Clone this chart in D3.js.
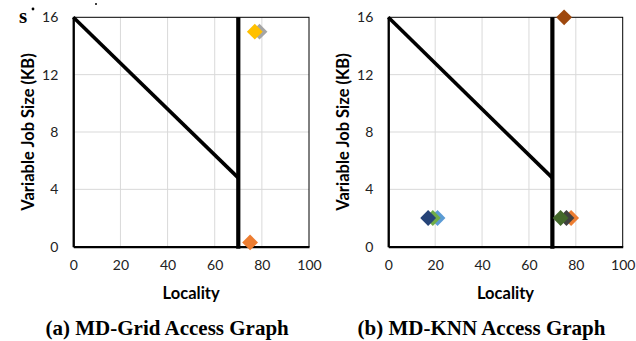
<!DOCTYPE html>
<html>
<head>
<meta charset="utf-8">
<title>Access Graphs</title>
<style>
  body { margin: 0; background: #fff; }
  svg text { font-family: Lato, "Open Sans", sans-serif; }
</style>
</head>
<body>
<script src="https://d3js.org/d3.v7.min.js"></script>
<script>
// axis ticks
var xTicks = [0, 20, 40, 60, 80, 100];
var yTicks = [0, 4, 8, 12, 16];

// boundary line: diagonal then vertical cut at locality 70
var boundaryDiag = [[0, 16], [70, 4.8]];
var boundaryVert = [[70, 16], [70, -0.15]];

// (a) MD-Grid, drawn back to front
var gridLocality = [79, 77, 75];
var gridSize = [15, 15, 0.3];
var gridColors = ["#a5a5a5", "#ffc000", "#ed7d31"];

// (b) MD-KNN, drawn back to front
var knnLocality = [75, 21, 19, 17, 78, 76, 73.5];
var knnSize = [16, 2, 2, 2, 2, 2, 2];
var knnColors = ["#9e480e", "#5b9bd5", "#70ad47", "#264478", "#ed7d31", "#404040", "#43682b"];

var captions = ["(a) MD-Grid Access Graph", "(b) MD-KNN Access Graph"];

var width = 636, height = 341;
var svg = d3.select("body").append("svg")
    .attr("width", width)
    .attr("height", height);

// clipped fragment of the text above
svg.append("text")
    .attr("x", 19).attr("y", 23)
    .style("font-family", "Liberation Serif, serif")
    .style("font-weight", "bold")
    .style("font-size", "21px")
    .text("s");
svg.append("circle").attr("cx", 33).attr("cy", 9).attr("r", 1.4).attr("fill", "#000");
svg.append("circle").attr("cx", 96).attr("cy", 4).attr("r", 1).attr("fill", "#000");

function drawPanel(left, right, xs, ys, colors, caption) {
    var top = 17.3, bottom = 246.7;
    var x = d3.scaleLinear().domain([0, 100]).range([left, right]);
    var y = d3.scaleLinear().domain([0, 16]).range([bottom, top]);
    var g = svg.append("g");

    // gridlines
    g.selectAll(".vg").data(xTicks.slice(1, -1)).enter().append("line")
        .attr("x1", function(d) { return x(d); })
        .attr("x2", function(d) { return x(d); })
        .attr("y1", top).attr("y2", bottom)
        .attr("stroke", "#d9d9d9").attr("stroke-width", 1);
    g.selectAll(".hg").data(yTicks.slice(1, -1)).enter().append("line")
        .attr("y1", function(d) { return y(d); })
        .attr("y2", function(d) { return y(d); })
        .attr("x1", left).attr("x2", right)
        .attr("stroke", "#d9d9d9").attr("stroke-width", 1);

    // plot border
    g.append("rect")
        .attr("x", left).attr("y", top)
        .attr("width", right - left).attr("height", bottom - top)
        .attr("fill", "none").attr("stroke", "#000").attr("stroke-width", 1);

    // axes
    var xAxis = d3.axisBottom(x).tickValues(xTicks).tickSize(0).tickPadding(13);
    var yAxis = d3.axisLeft(y).tickValues(yTicks).tickSize(0).tickPadding(15);
    var gx = g.append("g").attr("transform", "translate(0," + bottom + ")").call(xAxis);
    var gy = g.append("g").attr("transform", "translate(" + left + ",0)").call(yAxis);
    [gx, gy].forEach(function(a) {
        a.select(".domain").attr("stroke", "#000").attr("stroke-width", 2.2);
        a.selectAll("text")
            .style("font-family", "Lato, sans-serif")
            .style("font-size", "14px")
            .attr("fill", "#222");
    });

    // boundary
    var line = d3.line().x(function(d) { return x(d[0]); }).y(function(d) { return y(d[1]); });
    g.append("path").datum(boundaryDiag).attr("d", line)
        .attr("fill", "none").attr("stroke", "#000").attr("stroke-width", 3.6);
    g.append("path").datum(boundaryVert).attr("d", line)
        .attr("fill", "none").attr("stroke", "#000").attr("stroke-width", 4.2);

    // markers
    var diamond = d3.symbol().type(d3.symbolDiamond2).size(160);
    g.selectAll(".pt").data(xs).enter().append("path")
        .attr("d", diamond)
        .attr("transform", function(d, i) { return "translate(" + x(d) + "," + y(ys[i]) + ")"; })
        .attr("fill", function(d, i) { return colors[i]; });

    // axis titles
    g.append("text")
        .attr("x", (left + right) / 2).attr("y", 299)
        .attr("text-anchor", "middle")
        .style("font-size", "16.5px").style("font-weight", "bold")
        .text("Locality");
    g.append("text")
        .attr("transform", "translate(" + (left - 39) + "," + 132 + ") rotate(-90)")
        .attr("text-anchor", "middle")
        .style("font-size", "16.5px").style("font-weight", "bold")
        .text("Variable Job Size (KB)");

    // caption
    g.append("text")
        .attr("x", (left + right) / 2 - 24).attr("y", 335)
        .attr("text-anchor", "middle")
        .style("font-family", "Liberation Serif, serif")
        .style("font-size", "21px").style("font-weight", "bold")
        .text(caption);
}

drawPanel(73.3, 309, gridLocality, gridSize, gridColors, captions[0]);
drawPanel(388.3, 622.7, knnLocality, knnSize, knnColors, captions[1]);
</script>
</body>
</html>
